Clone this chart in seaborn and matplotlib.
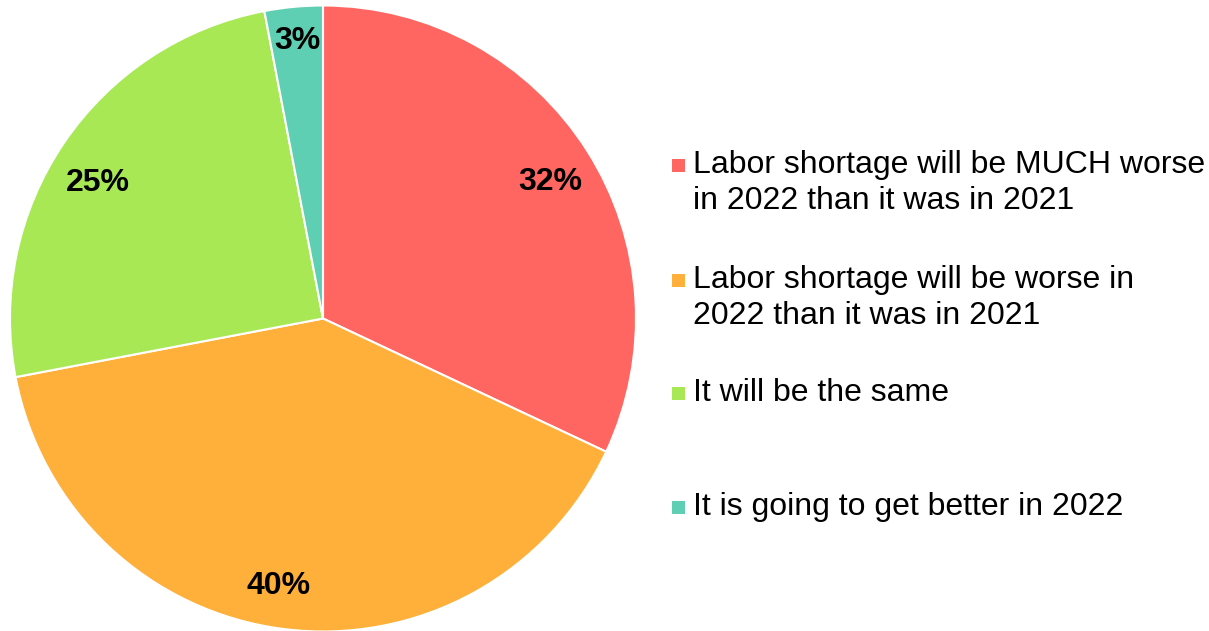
import matplotlib
matplotlib.use("Agg")
import matplotlib.pyplot as plt
import seaborn as sns
from matplotlib.patches import Rectangle

categories = [
    "Labor shortage will be MUCH worse\nin 2022 than it was in 2021",
    "Labor shortage will be worse in\n2022 than it was in 2021",
    "It will be the same",
    "It is going to get better in 2022",
]
shares = [32, 40, 25, 3]
slice_colors = ["#FF6661", "#FFB03B", "#A8E855", "#5ECFB2"]
# small pixel nudges (dx, dy; +dy = down) for the percentage labels
label_nudge = [(0, 8), (-11, 0), (-2, 16), (0, -10)]

sns.set_theme(style="white")
plt.rcParams["font.family"] = ["Liberation Sans", "DejaVu Sans"]

W, H = 1209, 631
fig = plt.figure(figsize=(W / 100, H / 100), dpi=100)
fig.patch.set_facecolor("white")

# pie axes in pixel terms: center (323, 318), radius 313
cx, cy, r = 323, 318.5, 313
ax = fig.add_axes([(cx - r) / W, (H - cy - r) / H, 2 * r / W, 2 * r / H])
palette = sns.color_palette(slice_colors)

wedges, texts, autotexts = ax.pie(
    shares,
    colors=palette,
    startangle=90,
    counterclock=False,
    autopct=lambda p: f"{p:.0f}%",
    pctdistance=0.86,
    radius=1.0,
    wedgeprops=dict(edgecolor="white", linewidth=1.5),
    textprops=dict(fontsize=23, fontweight="bold", color="black"),
)
ax.set_xlim(-1, 1)
ax.set_ylim(-1, 1)
ax.set_aspect("equal")
ax.axis("off")

px = 2.0 / (2 * r)  # data units per pixel
for t, (dx, dy) in zip(autotexts, label_nudge):
    x, y = t.get_position()
    t.set_position((x + dx * px, y - dy * px))

# legend drawn beside the pie, marker aligned with the first text line
baselines = [173, 288, 401, 515]
line_gap = 36
for label, col, yb in zip(categories, palette, baselines):
    for i, line in enumerate(label.split("\n")):
        fig.text(693 / W, 1 - (yb + i * line_gap) / H, line, fontsize=23,
                 color="black", ha="left", va="baseline")
    sq = 13
    fig.patches.append(Rectangle((672 / W, 1 - (yb - 1) / H),
                                 sq / W, sq / H, transform=fig.transFigure,
                                 facecolor=col, edgecolor="none"))

fig.savefig("out.png", dpi=100, facecolor="white")
